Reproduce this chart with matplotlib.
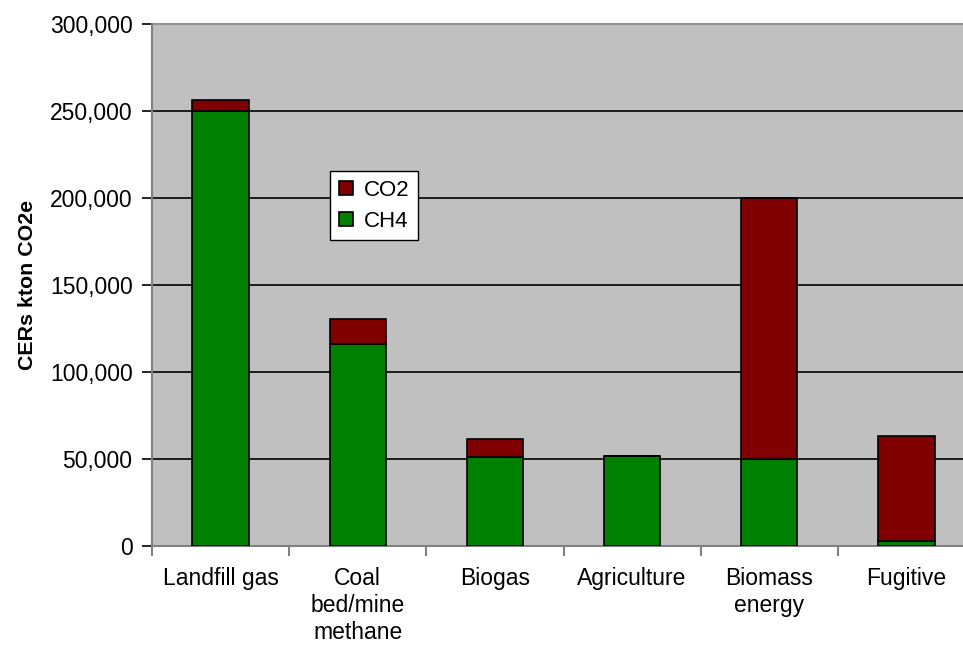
import matplotlib
matplotlib.use("Agg")
import matplotlib.pyplot as plt
from matplotlib.ticker import FuncFormatter

plt.rcParams['font.family'] = ['Liberation Sans', 'DejaVu Sans']

categories = ["Landfill gas", "Coal\nbed/mine\nmethane", "Biogas", "Agriculture",
              "Biomass\nenergy", "Fugitive"]
ch4 = [250000, 116300, 51300, 51700, 50000, 3000]
co2 = [6500, 14300, 10400, 0, 150000, 60200]

fig = plt.figure(figsize=(9.63, 6.46), dpi=100)
ax = fig.add_axes([152 / 963, 1 - 546.3 / 646, (975 - 152) / 963, (546.3 - 24.3) / 646])
ax.set_facecolor("#C0C0C0")

x = list(range(len(categories)))
width = 0.41
ax.bar(x, ch4, width, color="#008000", edgecolor="black", linewidth=1.2,
       label="CH4", zorder=3)
ax.bar(x, co2, width, bottom=ch4, color="#800000", edgecolor="black",
       linewidth=1.2, label="CO2", zorder=3)

ax.set_xlim(-0.5, len(categories) - 0.5)
ax.set_ylim(0, 300000)
ax.set_yticks(range(0, 300001, 50000))
ax.yaxis.set_major_formatter(FuncFormatter(lambda v, p: f"{int(v):,}"))
ax.grid(axis="y", color="black", linewidth=1.2, zorder=1)
ax.set_axisbelow(True)

# Category ticks sit between the bars; labels are centred under each bar
ax.set_xticks([i - 0.5 for i in range(len(categories) + 1)])
ax.set_xticklabels([])
ax.set_xticks(x, minor=True)
ax.set_xticklabels(categories, minor=True, fontsize=16.5, linespacing=1.22,
                   va="top")
ax.tick_params(axis="x", which="major", length=7, width=1.5, color="#808080",
               direction="out")
ax.tick_params(axis="x", which="minor", length=0, pad=15)
ax.tick_params(axis="y", length=7, width=1.2, color="black", direction="out",
               labelsize=16.5, pad=7)

for side in ("top", "right"):
    ax.spines[side].set_visible(False)
ax.spines["left"].set_color("#808080")
ax.spines["left"].set_linewidth(1.5)
ax.spines["bottom"].set_color("#808080")
ax.spines["bottom"].set_linewidth(1.5)
ax.plot([-0.5, len(categories) - 0.5], [300000, 300000], color="#909090",
        linewidth=1.5, clip_on=False, zorder=2)

ax.set_ylabel("CERs kton CO2e", fontsize=15.4, fontweight="bold")
ax.yaxis.set_label_coords(-0.140, 0.5)

handles, labels = ax.get_legend_handles_labels()
leg = ax.legend(handles[::-1], labels[::-1], loc="upper left",
                bbox_to_anchor=((330 - 152) / 823, 1 - (170.7 - 24.3) / 522),
                fontsize=16, frameon=True, fancybox=False, handlelength=0.62,
                handleheight=0.62, handletextpad=0.5, borderpad=0.4,
                labelspacing=0.45, borderaxespad=0)
leg.get_frame().set_edgecolor("black")
leg.get_frame().set_linewidth(1.0)
leg.get_frame().set_facecolor("white")
leg.get_frame().set_alpha(1)

fig.savefig("out.png", dpi=100, facecolor="white")
